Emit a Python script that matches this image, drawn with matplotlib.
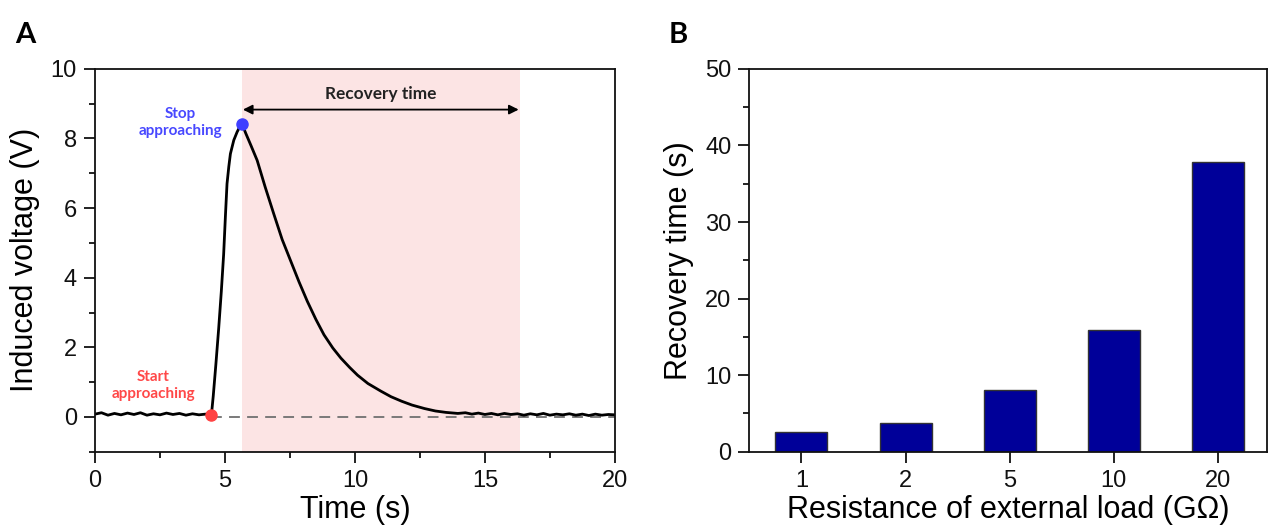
import matplotlib
matplotlib.use("Agg")
import matplotlib.pyplot as plt
from matplotlib.ticker import MultipleLocator

plt.rcParams['font.family'] = ['Liberation Sans', 'DejaVu Sans']

# Panel A: induced voltage trace
time_s = [0.0, 0.25, 0.5, 0.75, 1.0, 1.25, 1.5, 1.75, 2.0, 2.25, 2.5, 2.75, 3.0, 3.25,
          3.5, 3.75, 4.0, 4.25, 4.48,
          4.55, 4.65, 4.76, 4.86, 4.95, 5.02, 5.08, 5.15, 5.21, 5.34, 5.47, 5.58, 5.66,
          5.8, 6.0, 6.24, 6.55, 6.88, 7.2, 7.53, 7.85, 8.17, 8.5, 8.81, 9.15, 9.46,
          9.8, 10.1, 10.5, 11.0, 11.39, 11.8, 12.2, 12.68, 13.1, 13.5, 13.96,
          14.25, 14.5, 14.75, 15.0, 15.25, 15.5, 15.75, 16.0, 16.25, 16.5, 16.75, 17.0,
          17.25, 17.5, 17.75, 18.0, 18.25, 18.5, 18.75, 19.0, 19.25, 19.5, 19.75, 20.0]
voltage = [0.08, 0.12, 0.05, 0.10, 0.06, 0.11, 0.07, 0.12, 0.05, 0.09, 0.06, 0.11, 0.07, 0.10,
           0.05, 0.09, 0.06, 0.08, 0.06,
           0.6, 1.5, 2.55, 3.6, 4.67, 5.8, 6.7, 7.2, 7.56, 7.95, 8.19, 8.35, 8.41,
           8.15, 7.8, 7.37, 6.6, 5.83, 5.1, 4.48, 3.88, 3.32, 2.8, 2.36, 1.98, 1.69,
           1.42, 1.2, 0.96, 0.74, 0.58, 0.45, 0.34, 0.24, 0.17, 0.13, 0.10,
           0.12, 0.08, 0.11, 0.07, 0.10, 0.06, 0.10, 0.07, 0.09, 0.05, 0.09, 0.06,
           0.10, 0.05, 0.08, 0.06, 0.09, 0.05, 0.08, 0.04, 0.08, 0.05, 0.07, 0.06]
start_pt = (4.48, 0.06)
stop_pt = (5.66, 8.41)
recovery_span = (5.64, 16.35)

# Panel B: recovery time vs load resistance
loads = ['1', '2', '5', '10', '20']
recovery_time = [2.55, 3.8, 8.1, 15.9, 37.8]

fig = plt.figure(figsize=(12.68, 5.31), dpi=100)
axA = fig.add_axes([0.0749, 0.1493, 0.410, 0.721])
axB = fig.add_axes([0.591, 0.1493, 0.408, 0.721])

# ---- Panel A ----
axA.axvspan(*recovery_span, color='#fce4e4', lw=0, zorder=0)
axA.plot([start_pt[0], 20], [0, 0], ls=(0, (6, 4)), color='#707070', lw=1.3, zorder=1)
axA.plot(time_s, voltage, color='black', lw=2.0, zorder=2)
axA.plot(*start_pt, 'o', color='#ff4343', ms=8, zorder=3)
axA.plot(*stop_pt, 'o', color='#3f3fff', ms=8, zorder=3)
axA.annotate('', xy=(recovery_span[0] + 0.05, 8.83), xytext=(recovery_span[1] - 0.05, 8.83),
             arrowprops=dict(arrowstyle='<|-|>', color='black', lw=1.3,
                             mutation_scale=14, shrinkA=0, shrinkB=0))
axA.text(11.0, 9.28, 'Recovery time', ha='center', va='center', fontsize=12.4,
         fontweight='bold', family='Lato', color='#222222')
axA.text(3.3, 8.45, 'Stop\napproaching', ha='center', va='center', fontsize=11,
         fontweight='bold', family='Lato', color='#4848ff', linespacing=1.25)
axA.text(2.25, 0.9, 'Start\napproaching', ha='center', va='center', fontsize=11,
         fontweight='bold', family='Lato', color='#ff4848', linespacing=1.25)

axA.set_xlim(0, 20)
axA.set_ylim(-1, 10)
axA.xaxis.set_major_locator(MultipleLocator(5))
axA.xaxis.set_minor_locator(MultipleLocator(2.5))
axA.yaxis.set_major_locator(MultipleLocator(2))
axA.yaxis.set_minor_locator(MultipleLocator(1))
axA.set_xlabel('Time (s)', fontsize=22, labelpad=2)
axA.set_ylabel('Induced voltage (V)', fontsize=22, labelpad=8)

# ---- Panel B ----
xpos = range(len(loads))
axB.bar(xpos, recovery_time, width=0.5, color='#000099', edgecolor='#333333', lw=1.0, zorder=2)
axB.set_xticks(list(xpos))
axB.set_xticklabels(loads)
axB.set_xlim(-0.5, 4.47)
axB.set_ylim(0, 50)
axB.yaxis.set_major_locator(MultipleLocator(10))
axB.yaxis.set_minor_locator(MultipleLocator(5))
axB.set_xlabel('Resistance of external load (G\u03a9)', fontsize=22, labelpad=2)
axB.set_ylabel('Recovery time (s)', fontsize=22, labelpad=8)

for ax in (axA, axB):
    for sp in ax.spines.values():
        sp.set_linewidth(1.3)
        sp.set_color('#111111')
    ax.tick_params(which='major', direction='out', length=8, width=1.3,
                   labelsize=17, colors='#111111', pad=5)
    ax.tick_params(which='minor', direction='out', length=4, width=1.3, colors='#111111')
    ax.tick_params(top=False, right=False, which='both')

fig.text(0.012, 0.935, 'A', fontsize=21, fontweight='bold', family='Lato', va='center')
fig.text(0.527, 0.935, 'B', fontsize=21, fontweight='bold', family='Lato', va='center')

fig.savefig('out.png', dpi=100)
